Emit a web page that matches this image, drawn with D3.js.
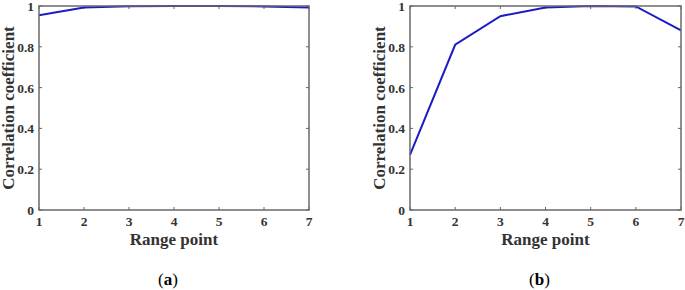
<!DOCTYPE html>
<html>
<head>
<meta charset="utf-8">
<script src="https://cdn.jsdelivr.net/npm/d3@7"></script>
<style>
  body { margin: 0; background: #fff; }
  text { font-family: "Liberation Serif", "DejaVu Serif", serif; font-weight: bold; fill: #333; }
</style>
</head>
<body>
<div id="chart"></div>
<script>
var rangePoints = [1, 2, 3, 4, 5, 6, 7];
var corrA = [0.955, 0.993, 0.999, 1.0, 1.0, 0.998, 0.993];
var corrB = [0.27, 0.81, 0.95, 0.993, 1.0, 0.998, 0.88];
var yTicks = [0, 0.2, 0.4, 0.6, 0.8, 1];
var panelLabels = ["a", "b"];

var width = 685, height = 290;
var svg = d3.select("#chart").append("svg")
  .attr("width", width)
  .attr("height", height);

var panels = [
  { left: 39, right: 309, values: corrA, label: panelLabels[0], yLabelX: 9 },
  { left: 410, right: 681, values: corrB, label: panelLabels[1], yLabelX: 380 }
];
var plotTop = 6, plotBottom = 210;

panels.forEach(function(p) {
  var x = d3.scaleLinear().domain([1, 7]).range([p.left, p.right]);
  var y = d3.scaleLinear().domain([0, 1]).range([plotBottom, plotTop]);
  var g = svg.append("g");

  // ticks inside, on all four sides
  var tickLen = 3;
  g.selectAll(".xt").data(rangePoints).enter().append("path")
    .attr("d", function(d) {
      return "M" + x(d) + "," + plotBottom + "v" + (-tickLen) +
             "M" + x(d) + "," + plotTop + "v" + tickLen;
    })
    .attr("stroke", "#666").attr("stroke-width", 1);
  g.selectAll(".yt").data(yTicks).enter().append("path")
    .attr("d", function(d) {
      return "M" + p.left + "," + y(d) + "h" + tickLen +
             "M" + p.right + "," + y(d) + "h" + (-tickLen);
    })
    .attr("stroke", "#666").attr("stroke-width", 1);

  // the data line
  var line = d3.line()
    .x(function(d, i) { return x(rangePoints[i]); })
    .y(function(d) { return y(d); });
  g.append("path")
    .datum(p.values)
    .attr("d", line)
    .attr("fill", "none")
    .attr("stroke", "#1c1cc4")
    .attr("stroke-width", 2);

  // axes box
  g.append("rect")
    .attr("x", p.left).attr("y", plotTop)
    .attr("width", p.right - p.left).attr("height", plotBottom - plotTop)
    .attr("fill", "none").attr("stroke", "#6a6a6a").attr("stroke-width", 1.5);

  // tick labels
  g.selectAll(".xl").data(rangePoints).enter().append("text")
    .attr("x", function(d) { return x(d); })
    .attr("y", 226)
    .attr("text-anchor", "middle")
    .attr("font-size", 13.5)
    .text(function(d) { return d; });
  g.selectAll(".yl").data(yTicks).enter().append("text")
    .attr("x", p.left - 5)
    .attr("y", function(d) { return y(d) + 5; })
    .attr("text-anchor", "end")
    .attr("font-size", 13.5)
    .text(function(d) { return d3.format("~g")(d); });

  // axis titles
  g.append("text")
    .attr("x", (p.left + p.right) / 2)
    .attr("y", 245)
    .attr("text-anchor", "middle")
    .attr("font-size", 17)
    .text("Range point");
  g.append("text")
    .attr("transform", "translate(" + (p.yLabelX + 5) + "," + ((plotTop + plotBottom) / 2) + ") rotate(-90)")
    .attr("text-anchor", "middle")
    .attr("font-size", 17)
    .text("Correlation coefficient");

  // panel label
  var pl = g.append("text")
    .attr("x", (p.left + p.right) / 2 - 6)
    .attr("y", 285)
    .attr("text-anchor", "middle")
    .attr("font-size", 17)
    .style("fill", "#000");
  pl.append("tspan").style("font-weight", "normal").text("(");
  pl.append("tspan").text(p.label);
  pl.append("tspan").style("font-weight", "normal").text(")");
});
</script>
</body>
</html>
